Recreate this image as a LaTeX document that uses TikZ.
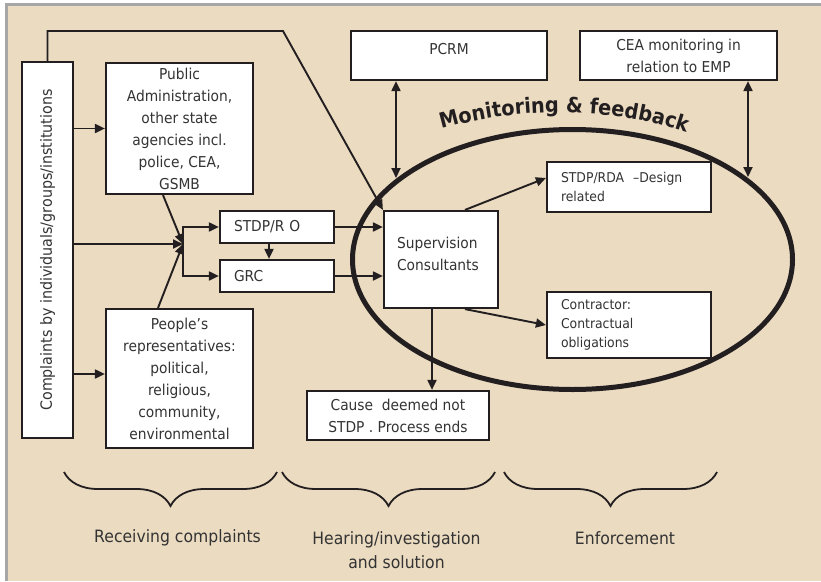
\documentclass[tikz,border=0pt]{standalone}
\usepackage{fontspec}
\setmainfont{DejaVu Sans}[FakeStretch=0.92]
\usetikzlibrary{arrows.meta,decorations.pathreplacing,decorations.text}
\definecolor{sand}{HTML}{EBDBC1}
\definecolor{frame}{HTML}{A6A6A6}
\definecolor{ink}{HTML}{333333}
\definecolor{edge}{HTML}{231F20}

\begin{document}
\begin{tikzpicture}[x=1pt, y=-1pt,
  box/.style={draw=edge, line width=2.2pt, fill=white, text=ink, inner sep=0pt,
    font=\fontsize{15}{22}\selectfont},
  lbox/.style={box, align=left, inner xsep=14pt, text width=#1},
  sbox/.style={lbox=#1, font=\fontsize{13.5}{19}\selectfont},
  arr/.style={draw=edge, line width=1.9pt, -{Triangle[length=10pt,width=9pt]}},
  dbl/.style={arr, {Triangle[length=10pt,width=9pt]}-{Triangle[length=10pt,width=9pt]}},
  brc/.style={draw=edge, line width=1.8pt, decorate, decoration={brace, mirror, amplitude=34pt}},
  lab/.style={text=ink, align=center, font=\fontsize{17}{24}\selectfont}]
\useasboundingbox (0,0) rectangle (821,581);
\fill[white] (0,0) rectangle (821,581);
\fill[sand] (5,3) rectangle (821,581);
\draw[frame, line width=2.5pt] (6.25,581) -- (6.25,4.25) -- (821,4.25);

% monitoring loop
\draw[edge, line width=5pt] (572.5,259.5) ellipse [x radius=220, y radius=130];
\path[decorate, decoration={text along path, text align=center,
    text={|\color{edge}\fontsize{21}{21}\selectfont\bfseries|Monitoring {\&} feedback}}]
  (438,130) .. controls (520,106) and (610,106) .. (690,134);

\node[box, minimum width=51pt, minimum height=376pt] (cpl) at (47.5,250) {\rotatebox{90}{\fontsize{15.5}{22}\selectfont Complaints by individuals/groups/institutions}};
\node[box, align=center, minimum width=147pt, minimum height=131pt] (pad) at (179.5,128.5) {Public\\Administration,\\other state\\agencies incl.\\police, CEA,\\GSMB};
\node[box, align=center, minimum width=147pt, minimum height=139pt] (ppl) at (179.5,378.5) {People’s\\representatives:\\political,\\religious,\\community,\\environmental};
\node[lbox=86pt, minimum height=32pt] (sro) at (277,227) {STDP/R O};
\node[lbox=86pt, minimum height=32pt] (grc) at (277,276) {GRC};
\node[lbox=88pt, inner xsep=13pt, text height=37pt, text depth=60pt] (sup) at (441,259.5) {Supervision\\Consultants};
\node[box, minimum width=196pt, minimum height=49pt, inner ysep=3pt, text height=20pt, text depth=23pt] (pcrm) at (449,55.5) {PCRM};
\node[box, align=center, minimum width=197pt, minimum height=49pt] (cea) at (678.5,55.5) {CEA monitoring in\\relation to EMP};
\node[sbox=136pt, minimum height=50pt] (rda) at (629,187) {STDP/RDA~ –Design\\related};
\node[sbox=136pt, minimum height=66pt] (con) at (629,325) {Contractor:\\Contractual\\obligations};
\node[box, align=center, minimum width=182pt, minimum height=49pt] (cse) at (398,415.5) {Cause~ deemed not\\STDP . Process ends};

\coordinate (jn) at (183,244);
\coordinate (bnd) at (283,31);
\coordinate (e1) at (396,178);
\coordinate (e2) at (748,177);

\draw[arr] (cpl.north) |- (bnd) -- (sup.north west);
\draw[arr] (cpl.east |- pad.west) -- (pad.west);
\draw[arr] (cpl.east |- jn) -- (jn);
\draw[arr] ([yshift=4.5pt]cpl.east |- ppl.west) -- ([yshift=4.5pt]ppl.west);
\draw[arr] ([xshift=-16.5pt]pad.south) -- (jn);
\draw[arr] ([xshift=-21.5pt]ppl.north) -- (jn);
\draw[arr] (jn) |- (sro.west);
\draw[arr] (jn) |- (grc.west);
\draw[arr] ([xshift=-8pt]sro.south) -- ([xshift=-8pt]grc.north);
\draw[arr] (sro.east) -- (sro.east -| sup.west);
\draw[arr] (grc.east) -- (grc.east -| sup.west);
\draw[arr] ([xshift=24pt]sup.north) -- ([yshift=9pt]rda.west);
\draw[arr] ([xshift=24pt]sup.south) -- (con.west);
\draw[arr] ([xshift=-9pt]sup.south) -- ([xshift=-9pt]sup.south |- cse.north);
\draw[dbl] (pcrm.south -| e1) -- (e1);
\draw[dbl] (cea.south -| e2) -- (e2);

% stages
\draw[brc] (64,472) -- (277,472);
\draw[brc] (282,472) -- (495,472);
\draw[brc] (504,472) -- (717,472);
\node[lab] (l1) at (177.5,538) {Receiving complaints};
\node[lab] (l2) at (396.5,550) {Hearing/investigation\\and solution};
\node[lab] (l3) at (625,538) {Enforcement};
\end{tikzpicture}
\end{document}
